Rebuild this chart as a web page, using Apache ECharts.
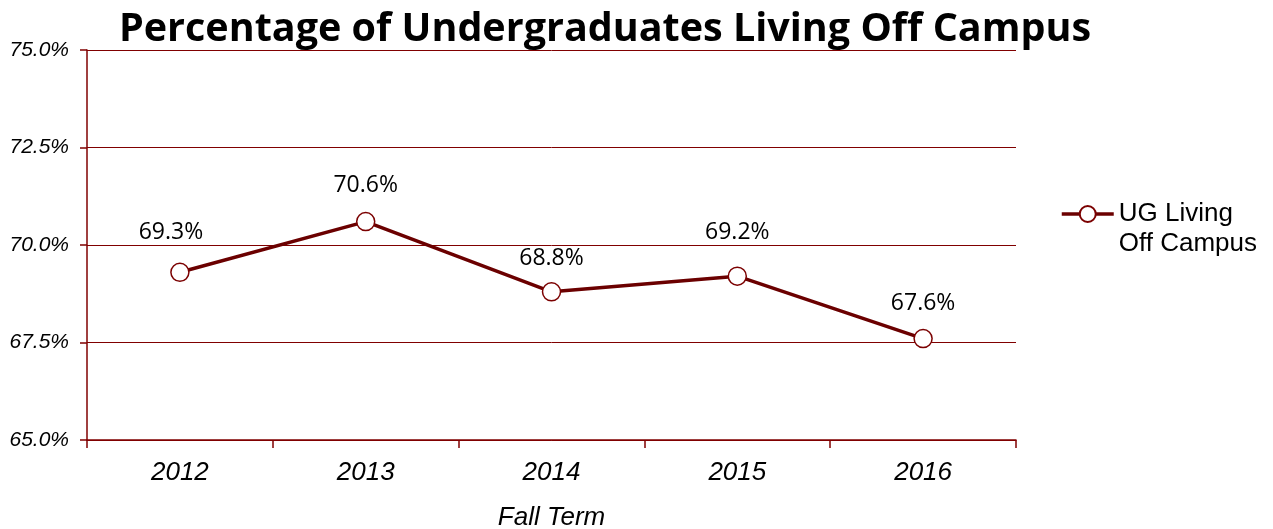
<!DOCTYPE html>
<html><head><meta charset="utf-8">
<script src="https://cdn.jsdelivr.net/npm/echarts@6/dist/echarts.min.js"></script>
<style>html,body{margin:0;padding:0;background:#fff}#c{width:1273px;height:529px}</style>
</head><body><div id="c"></div>
<script>
const categories = ['2012','2013','2014','2015','2016'];
const values = [69.3, 70.6, 68.8, 69.2, 67.6];
const seriesName = 'UG Living\nOff Campus';
const titleText = 'Percentage of Undergraduates Living Off Campus';
const xAxisName = 'Fall Term';

// label placement tweaks (style only)
const labelOffsets = [[-9, -5], [0, -1], [0, 2], [0, -8], [0, 0]];

const axisColor = '#800000';
const chart = echarts.init(document.getElementById('c'));
chart.setOption({
  backgroundColor: '#fff',
  animation: false,
  title: {
    text: titleText, left: 600, top: 5, textAlign: 'center',
    textStyle: {fontFamily: 'Open Sans', fontWeight: 'bold', fontSize: 39.5, color: '#000'}
  },
  legend: {
    left: 1060, top: 169, orient: 'vertical', padding: 0,
    itemWidth: 52, itemHeight: 20, itemGap: 0,
    lineStyle: {width: 3.5, color: '#6B0000'},
    formatter: name => '\n' + name,
    textStyle: {fontFamily: 'Liberation Sans', fontSize: 26, color: '#000', lineHeight: 30},
    data: [{name: seriesName}]
  },
  grid: {left: 87, right: 257, top: 50, bottom: 89, outerBoundsMode: 'none', containLabel: false},
  xAxis: {
    type: 'category', data: categories, boundaryGap: true,
    axisLine: {lineStyle: {color: axisColor, width: 1.5}},
    axisTick: {show: true, length: 8, inside: false, lineStyle: {color: axisColor, width: 1.5}},
    axisLabel: {fontFamily: 'Liberation Sans', fontStyle: 'italic', fontSize: 26, color: '#000', margin: 20},
    name: xAxisName, nameLocation: 'middle', nameGap: 65,
    nameTextStyle: {fontFamily: 'Liberation Sans', fontStyle: 'italic', fontSize: 26, color: '#000'}
  },
  yAxis: {
    type: 'value', min: 65, max: 75, interval: 2.5,
    axisLine: {show: true, lineStyle: {color: axisColor, width: 1.5}},
    axisTick: {show: true, length: 7, lineStyle: {color: axisColor, width: 1.5}},
    splitLine: {show: true, lineStyle: {color: axisColor, width: 1}},
    axisLabel: {fontFamily: 'Liberation Sans', fontStyle: 'italic', fontSize: 21, color: '#000', margin: 18,
      formatter: v => v.toFixed(1) + '%'}
  },
  series: [{
    name: seriesName, type: 'line',
    data: values.map((v, i) => ({value: v, label: {offset: labelOffsets[i]}})),
    symbol: 'circle', symbolSize: 18,
    lineStyle: {color: '#6B0000', width: 3.5},
    itemStyle: {color: '#fff', borderColor: '#7B0000', borderWidth: 1.5},
    label: {show: true, position: 'top', distance: 14, fontFamily: 'Open Sans', fontSize: 23, color: '#000',
      formatter: p => p.value.toFixed(1) + '%'}
  }]
});
</script></body></html>
